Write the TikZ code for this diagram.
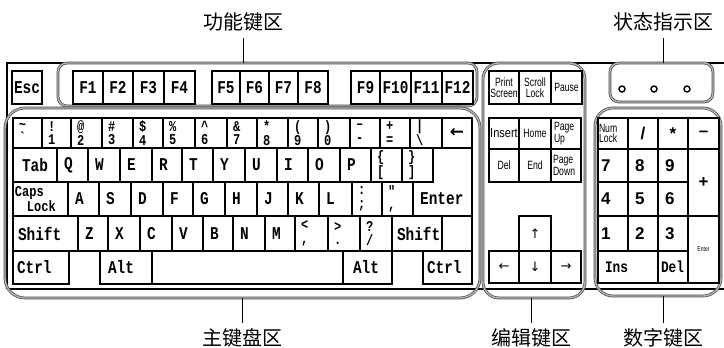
\documentclass[tikz,border=0pt]{standalone}
\usepackage{fontspec}
\newfontfamily\keyfont{Liberation Mono}[FakeStretch=0.8]
\newfontfamily\smallfont{Liberation Sans}[FakeStretch=0.72]
\newfontfamily\smallwfont{Liberation Sans}[FakeStretch=0.85]
\newfontfamily\numfont{Liberation Sans}
\newfontfamily\arrowfont{DejaVu Sans}
\newfontfamily\cjk{Noto Sans CJK SC}
\newcommand\kf{\keyfont\bfseries\fontsize{18}{18}\selectfont}
\newcommand\kfs{\keyfont\bfseries\fontsize{15}{13.5}\selectfont}
\newcommand\kfm{\keyfont\bfseries\fontsize{15}{12}\selectfont}
\newcommand\sfnt{\smallfont\fontsize{12}{10.5}\selectfont}
\newcommand\sfntw{\smallwfont\fontsize{13}{13}\selectfont}
\newcommand\nfnt{\numfont\bfseries\fontsize{17}{17}\selectfont}
\newcommand\afnt{\arrowfont\fontsize{13}{13}\selectfont}
% centered key: [opts]{name}{x1}{y1}{x2}{y2}{text}
\newcommand\KC[7][]{%
  \pgfmathsetmacro\kw{#5-#3}\pgfmathsetmacro\kh{#6-#4}%
  \node[key,#1,minimum width=\kw pt,minimum height=\kh pt] (#2) at ({(#3+#5)/2},{(#4+#6)/2}) {#7};}
% left aligned key: [opts]{pad}{name}{x1}{y1}{x2}{y2}{text}
\newcommand\KL[8][]{%
  \pgfmathsetmacro\kh{#7-#5}\pgfmathsetmacro\kt{#6-#4-2*#2}%
  \node[key,#1,inner xsep=#2pt,text width=\kt pt,align=left,minimum height=\kh pt] (#3) at ({(#4+#6)/2},{(#5+#7)/2}) {#8};}
% region: {name}{x1}{y1}{x2}{y2}{radius}
\newcommand\RG[6]{%
  \pgfmathsetmacro\kw{#4-#2}\pgfmathsetmacro\kh{#5-#3}%
  \node[region,rounded corners=#6pt,minimum width=\kw pt,minimum height=\kh pt] (#1) at ({(#2+#4)/2},{(#3+#5)/2}) {};}
\tikzset{
  key/.style={draw=black, line width=1.3pt, inner ysep=0pt, inner xsep=0pt, outer sep=0pt, align=center, font=\kf},
  region/.style={draw=black!70, double=black!30, double distance=1.4pt, line width=0.7pt, inner sep=0pt, outer sep=0pt},
  frameline/.style={draw=black, line width=1.2pt},
  led/.style={circle, draw=black, line width=1.4pt, fill=white, inner sep=0pt, minimum size=6pt},
  cjklab/.style={font=\cjk\fontsize{20}{20}\selectfont, inner sep=0pt},
  leader/.style={draw=black, line width=0.8pt}
}
\begin{document}
\begin{tikzpicture}[x=1pt,y=-1pt]
\useasboundingbox (0,0) rectangle (724,348);
\fill[white] (0,0) rectangle (724,348);
% outer frame
\coordinate (ftl) at (7,63);
\coordinate (ftr) at (724,63);
\coordinate (fbl) at (7,289);
\coordinate (fbr) at (724,289);
\draw[frameline] (ftr) -- (ftl) -- (fbl);
\draw[line width=2.6pt] (fbl) -- (fbr);
% regions
\RG{fnarea}{58}{63}{477}{106}{9}
\RG{mainarea}{5}{108}{480}{298}{20}
\RG{editarea}{483}{63}{585}{298}{16}
\RG{statusarea}{610}{63}{713}{102}{9}
\RG{numarea}{595}{108}{721}{296}{18}
% function row
\KC{kesc}{12}{71}{42}{104}{Esc}
\KC{kfa}{73}{71}{103}{104}{F1}
\KC{kfb}{103}{71}{133}{104}{F2}
\KC{kfc}{133}{71}{164}{104}{F3}
\KC{kfd}{164}{71}{195}{104}{F4}
\KC{kfe}{212}{71}{240}{104}{F5}
\KC{kff}{240}{71}{269}{104}{F6}
\KC{kfg}{269}{71}{298}{104}{F7}
\KC{kfh}{298}{71}{328}{104}{F8}
\KC{kfi}{351}{71}{380}{104}{F9}
\KC{kfj}{380}{71}{411}{104}{F10}
\KC{kfk}{411}{71}{442}{104}{F11}
\KC{kfl}{442}{71}{473}{104}{F12}
% number row
\KL[font=\kfs]{6}{kgrave}{13}{118}{42}{148}{\symbol{126}\\\symbol{96}}
\KL[font=\kfs]{6}{kone}{42}{118}{71}{148}{!\\1}
\KL[font=\kfs]{6}{ktwo}{71}{118}{102}{148}{@\\2}
\KL[font=\kfs]{6}{kthree}{102}{118}{133}{148}{\symbol{35}\\3}
\KL[font=\kfs]{6}{kfour}{133}{118}{163}{148}{\symbol{36}\\4}
\KL[font=\kfs]{6}{kfive}{163}{118}{195}{148}{\symbol{37}\\5}
\KL[font=\kfs]{6}{ksix}{195}{118}{227}{148}{\symbol{94}\\6}
\KL[font=\kfs]{6}{kseven}{227}{118}{257}{148}{\symbol{38}\\7}
\KL[font=\kfs]{6}{keight}{257}{118}{288}{148}{*\\8}
\KL[font=\kfs]{6}{knine}{288}{118}{318}{148}{(\\9}
\KL[font=\kfs]{6}{kzero}{318}{118}{350}{148}{)\\0}
\KL[font=\kfs]{6}{kminus}{350}{118}{380}{148}{–\\-}
\KL[font=\kfs]{6}{kequal}{380}{118}{410}{148}{+\\=}
\KL[font=\kfs]{6}{kbslash}{410}{118}{442}{148}{\symbol{124}\\\symbol{92}}
\KC[font=\arrowfont\bfseries\fontsize{17}{17}\selectfont]{kback}{442}{118}{472}{148}{←}
% qwerty row
\KC{ktab}{13}{148}{57}{182}{Tab}
\KL{7}{kq}{57}{148}{88}{182}{Q}
\KL{7}{kw}{88}{148}{120}{182}{W}
\KL{7}{ke}{120}{148}{152}{182}{E}
\KL{7}{kr}{152}{148}{182}{182}{R}
\KL{7}{kt}{182}{148}{213}{182}{T}
\KL{7}{ky}{213}{148}{245}{182}{Y}
\KL{7}{ku}{245}{148}{277}{182}{U}
\KL{7}{ki}{277}{148}{308}{182}{I}
\KL{7}{ko}{308}{148}{340}{182}{O}
\KL{7}{kp}{340}{148}{371}{182}{P}
\KL[font=\kfs]{6}{klbr}{371}{148}{402}{182}{\symbol{123}\\\symbol{91}}
\KL[font=\kfs]{6}{krbr}{402}{148}{433}{182}{\symbol{125}\\\symbol{93}}
% enter (L-shaped)
\coordinate (ea) at (433,148);
\coordinate (eb) at (472,148);
\coordinate (ec) at (472,216);
\coordinate (ed) at (413,216);
\coordinate (ee) at (413,182);
\coordinate (ef) at (433,182);
\draw[line width=1.3pt] (ea) -- (eb) -- (ec) -- (ed) -- (ee) -- (ef) -- cycle;
\node[font=\kf, anchor=west, inner sep=0pt] (kenter) at (420,199) {Enter};
% home row
\KL[font=\kfm]{2}{kcaps}{13}{182}{68}{216}{Caps\\\hspace*{12pt}Lock}
\KL{7}{ka}{68}{182}{99}{216}{A}
\KL{7}{ks}{99}{182}{131}{216}{S}
\KL{7}{kd}{131}{182}{163}{216}{D}
\KL{7}{kf}{163}{182}{193}{216}{F}
\KL{7}{kg}{193}{182}{225}{216}{G}
\KL{7}{kh}{225}{182}{257}{216}{H}
\KL{7}{kj}{257}{182}{288}{216}{J}
\KL{7}{kk}{288}{182}{319}{216}{K}
\KL{7}{kl}{319}{182}{352}{216}{L}
\KL[font=\kfs]{6}{ksemi}{352}{182}{382}{216}{:\\;}
\KL[font=\kfs]{6}{kquote}{382}{182}{413}{216}{\symbol{34}\\,}
% shift row
\KL{5}{klshift}{13}{216}{78}{251}{Shift}
\KL{7}{kz}{78}{216}{108}{251}{Z}
\KL{7}{kx}{108}{216}{140}{251}{X}
\KL{7}{kc}{140}{216}{172}{251}{C}
\KL{7}{kv}{172}{216}{203}{251}{V}
\KL{7}{kb}{203}{216}{233}{251}{B}
\KL{7}{kn}{233}{216}{265}{251}{N}
\KL{7}{km}{265}{216}{295}{251}{M}
\KL[font=\kfs]{6}{kcomma}{295}{216}{328}{251}{<\\,}
\KL[font=\kfs]{6}{kperiod}{328}{216}{360}{251}{>\\.}
\KL[font=\kfs]{6}{kslash}{360}{216}{392}{251}{?\\/}
\KL{5}{krshift}{392}{216}{442}{251}{Shift}
\KC{kblank}{442}{216}{472}{251}{}
% bottom row
\KL{4}{klctrl}{13}{251}{69}{284}{Ctrl}
\KL{8}{klalt}{100}{251}{152}{284}{Alt}
\KC{kspace}{152}{251}{343}{284}{}
\KL{10}{kralt}{343}{251}{392}{284}{Alt}
\KL{4}{krctrl}{423}{251}{472}{284}{Ctrl}
% edit keys
\KC[font=\sfnt]{kprt}{489}{71}{519}{104}{Print\\Screen}
\KC[font=\sfnt]{kscr}{519}{71}{551}{104}{Scroll\\Lock}
\KC[font=\sfnt]{kpause}{551}{71}{582}{104}{Pause}
\KC[font=\sfntw]{kins}{489}{118}{519}{149}{Insert}
\KC[font=\sfnt]{khome}{519}{118}{551}{149}{Home}
\KL[font=\sfnt]{3}{kpgup}{551}{118}{581}{149}{Page\\Up}
\KC[font=\sfnt]{kdel}{489}{149}{519}{182}{Del}
\KC[font=\sfnt]{kend}{519}{149}{551}{182}{End}
\KL[font=\sfnt]{2}{kpgdn}{551}{149}{581}{182}{Page\\Down}
\KC[font=\afnt]{kup}{519}{216}{551}{251}{↑}
\KC[font=\afnt]{kleft}{489}{251}{519}{283}{←}
\KC[font=\afnt]{kdown}{519}{251}{551}{283}{↓}
\KC[font=\afnt]{kright}{551}{251}{581}{283}{→}
% numeric keypad
\KL[font=\sfnt]{1}{knum}{598}{118}{628}{149}{Num\\Lock}
\KC[font=\nfnt]{kdiv}{628}{118}{658}{149}{/}
\KC[font=\nfnt]{kmul}{658}{118}{688}{149}{*}
\KC[font=\nfnt]{ksub}{688}{118}{719}{149}{–}
\KL[font=\nfnt]{3}{kn7}{598}{149}{628}{182}{7}
\KL[font=\nfnt]{7}{kn8}{628}{149}{658}{182}{8}
\KL[font=\nfnt]{7}{kn9}{658}{149}{688}{182}{9}
\KC[font=\nfnt]{kadd}{688}{149}{719}{216}{+}
\KL[font=\nfnt]{3}{kn4}{598}{182}{628}{216}{4}
\KL[font=\nfnt]{7}{kn5}{628}{182}{658}{216}{5}
\KL[font=\nfnt]{7}{kn6}{658}{182}{688}{216}{6}
\KL[font=\nfnt]{3}{kn1}{598}{216}{628}{251}{1}
\KL[font=\nfnt]{7}{kn2}{628}{216}{658}{251}{2}
\KL[font=\nfnt]{7}{kn3}{658}{216}{688}{251}{3}
\KC[font=\smallfont\fontsize{7}{7}\selectfont]{kent}{688}{216}{719}{283}{Enter}
\KL[font=\keyfont\bfseries\fontsize{16}{16}\selectfont]{7}{knins}{598}{251}{658}{283}{Ins}
\KL[font=\keyfont\bfseries\fontsize{16}{16}\selectfont]{3}{kndel}{658}{251}{688}{283}{Del}
% status LEDs
\node[led] (leda) at (622,89) {};
\node[led] (ledb) at (654,89) {};
\node[led] (ledc) at (687,89) {};
% labels
\node[cjklab] (lfn) at (243,22) {功能键区};
\node[cjklab] (lst) at (663,22) {状态指示区};
\node[cjklab] (lmain) at (242,338) {主键盘区};
\node[cjklab] (ledit) at (531,338) {编辑键区};
\node[cjklab] (lnum) at (663,338) {数字键区};
\draw[leader, shorten <=7pt] (lfn.south) -- (lfn.south |- fnarea.north);
\draw[leader, shorten <=7pt] (lst.south) -- (lst.south |- statusarea.north);
\draw[leader, shorten >=5pt] (lmain.north |- mainarea.south) -- (lmain.north);
\draw[leader, shorten >=5pt] (ledit.north |- editarea.south) -- (ledit.north);
\draw[leader, shorten >=5pt] (lnum.north |- numarea.south) -- (lnum.north);
\end{tikzpicture}
\end{document}
